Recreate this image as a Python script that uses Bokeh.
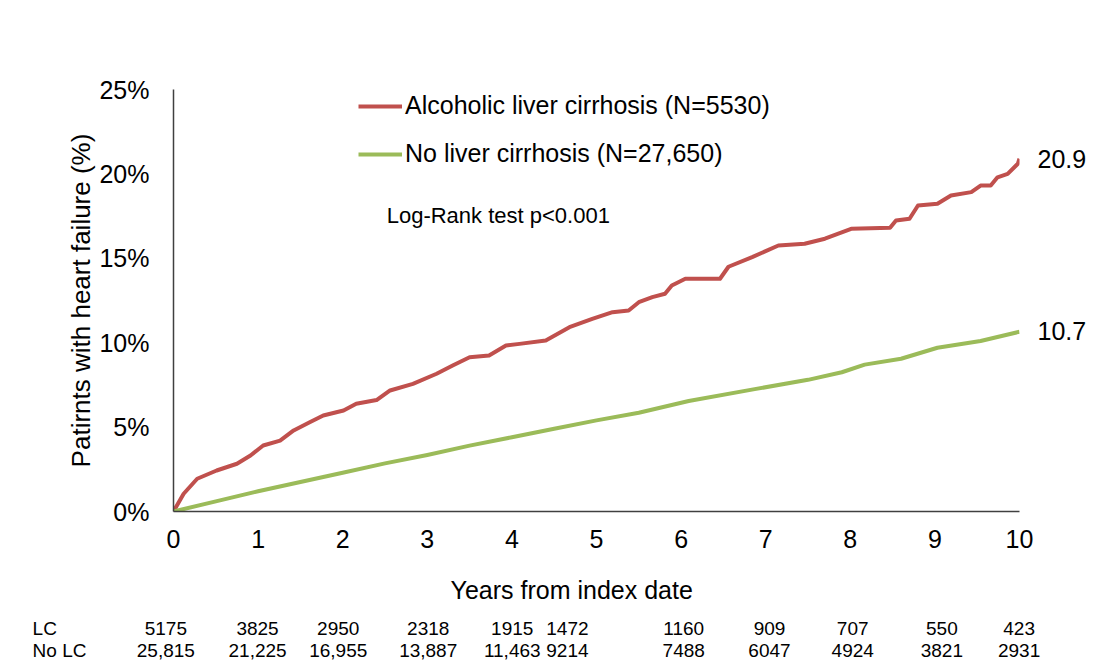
from bokeh.plotting import figure
from bokeh.models import (Range1d, FixedTicker, PrintfTickFormatter, Label, LinearAxis,
                          Legend, LegendItem)
from bokeh.core.properties import value
from bokeh.embed import file_html
from bokeh.resources import INLINE

# ---- data ----
lc_years = [0, 0.12, 0.28, 0.51, 0.75, 0.91, 1.06, 1.26, 1.42, 1.61, 1.77, 2.01, 2.16, 2.40,
            2.56, 2.83, 3.11, 3.30, 3.50, 3.73, 3.93, 4.09, 4.40, 4.68, 4.95, 5.19, 5.38,
            5.50, 5.66, 5.81, 5.89, 6.05, 6.46, 6.56, 6.84, 7.15, 7.46, 7.70, 8.01, 8.47,
            8.54, 8.70, 8.80, 9.03, 9.19, 9.43, 9.54, 9.66, 9.74, 9.86, 9.98, 10.0]
lc_pct = [0, 1.05, 1.94, 2.43, 2.83, 3.32, 3.91, 4.2, 4.8, 5.29, 5.69, 5.98, 6.38, 6.6,
          7.17, 7.56, 8.16, 8.65, 9.14, 9.24, 9.83, 9.93, 10.13, 10.92, 11.41, 11.81, 11.91,
          12.4, 12.7, 12.9, 13.39, 13.79, 13.79, 14.5, 15.07, 15.76, 15.86, 16.16, 16.75, 16.81,
          17.24, 17.34, 18.13, 18.23, 18.72, 18.92, 19.31, 19.31, 19.8, 20.0, 20.6, 20.9]

nolc_years = [0, 0.5, 1, 1.5, 2, 2.5, 3, 3.5, 4, 4.5, 5, 5.5, 6.09, 6.87, 7.5, 7.9, 8.17,
              8.6, 9.03, 9.54, 10.0]
nolc_pct = [0, 0.6, 1.2, 1.75, 2.3, 2.85, 3.35, 3.9, 4.4, 4.9, 5.4, 5.85, 6.55, 7.25, 7.8,
            8.25, 8.7, 9.05, 9.7, 10.1, 10.65]

series_names = ["Alcoholic liver cirrhosis (N=5530)", "No liver cirrhosis (N=27,650)"]
end_values = [20.9, 10.7]

x_ticks = [0, 1, 2, 3, 4, 5, 6, 7, 8, 9, 10]
y_ticks = [0, 5, 10, 15, 20, 25]

risk_row_names = ["LC", "No LC"]
risk_lc = [5175, 3825, 2950, 2318, 1915, 1472, 1160, 909, 707, 550, 423]
risk_nolc = [25815, 21225, 16955, 13887, 11463, 9214, 7488, 6047, 4924, 3821, 2931]
risk_col_x = [-0.09, 0.99, 1.94, 3.0, 3.99, 4.64, 6.01, 7.02, 8.0, 9.05, 9.96]

RED = "#C0504D"
GREEN = "#9BBB59"
FONT = "Liberation Sans"
TXT = "#000000"

W = 1089
BL, BR, BT, BB = 173, 67, 89, 54
HA = BT + 422 + BB
HB = 97

p = figure(width=W, height=HA, output_backend="svg", toolbar_location=None,
           x_range=Range1d(0, 10), y_range=Range1d(0, 25),
           min_border_left=BL, min_border_right=BR, min_border_top=BT, min_border_bottom=BB)
p.outline_line_color = None
p.grid.visible = False

for ax in (p.xaxis[0], p.yaxis[0]):
    ax.axis_line_color = "#404040"
    ax.axis_line_width = 1.5
    ax.major_tick_line_color = None
    ax.minor_tick_line_color = None
    ax.major_tick_out = 0
    ax.major_tick_in = 0
    ax.major_label_text_font = FONT
    ax.major_label_text_font_size = "25px"
    ax.major_label_text_color = TXT

p.xaxis.ticker = FixedTicker(ticks=x_ticks)
p.yaxis.ticker = FixedTicker(ticks=y_ticks)
p.yaxis.formatter = PrintfTickFormatter(format="%d%%")
p.xaxis.major_label_standoff = 18
p.yaxis.major_label_standoff = 24
p.yaxis.axis_label = "Patirnts with heart failure (%)"
p.yaxis.axis_label_text_font = FONT
p.yaxis.axis_label_text_font_size = "26px"
p.yaxis.axis_label_text_font_style = "normal"
p.yaxis.axis_label_text_color = TXT
p.yaxis.axis_label_standoff = 0

# end-of-curve values as a right axis
rax = LinearAxis(ticker=FixedTicker(ticks=end_values),
                 formatter=PrintfTickFormatter(format="%.1f"))
rax.axis_line_color = None
rax.major_tick_line_color = None
rax.minor_tick_line_color = None
rax.major_tick_out = 0
rax.major_tick_in = 0
rax.major_label_standoff = 18
rax.major_label_text_font = FONT
rax.major_label_text_font_size = "25px"
rax.major_label_text_color = TXT
p.add_layout(rax, "right")

r1 = p.line(lc_years, lc_pct, line_color=RED, line_width=4, line_join="round")
r2 = p.line(nolc_years, nolc_pct, line_color=GREEN, line_width=4, line_join="round")

legend = Legend(items=[LegendItem(label=series_names[0], renderers=[r1]),
                       LegendItem(label=series_names[1], renderers=[r2])],
                location=(185, 343), orientation="vertical")
legend.glyph_width = 44
legend.glyph_height = 24
legend.label_height = 24
legend.label_standoff = 3
legend.spacing = 19
legend.padding = 0
legend.margin = 0
legend.border_line_color = None
legend.background_fill_alpha = 0
legend.label_text_font = FONT
legend.label_text_font_size = "25px"
legend.label_text_color = TXT
legend.label_text_baseline = "middle"
p.add_layout(legend)

p.add_layout(Label(x=2.52, y=17.55, text="Log-Rank test p<0.001", text_font=FONT,
                   text_font_size="22px", text_color=TXT, text_baseline="middle"))

# ---- lower panel: x-axis title and number-at-risk table ----
ppu = (W - BL - BR) / 10.0
q = figure(width=W, height=HB, output_backend="svg", toolbar_location=None,
           x_range=Range1d(-BL / ppu, (W - BL) / ppu), y_range=Range1d(HB, 0),
           min_border=0, x_axis_location=None, y_axis_location=None)
q.outline_line_color = None
q.grid.visible = False

q.text(x=[4.69], y=[24], text=["Years from index date"], text_font=value(FONT),
       text_font_size="25px", text_color=TXT, text_align="center", text_baseline="middle")

def fmt(n):
    return f"{n:,}" if n >= 10000 else str(n)

row_y = [63, 85]
q.text(x=[-1.66] * 2, y=row_y, text=risk_row_names, text_font=value(FONT),
       text_font_size="19px", text_color=TXT, text_align="left", text_baseline="middle")
for vals, yy in zip([risk_lc, risk_nolc], row_y):
    q.text(x=risk_col_x, y=[yy] * len(vals), text=[fmt(v) for v in vals],
           text_font=value(FONT), text_font_size="19px", text_color=TXT,
           text_align="center", text_baseline="middle")

open("out.html", "w").write(file_html([p, q], INLINE))
